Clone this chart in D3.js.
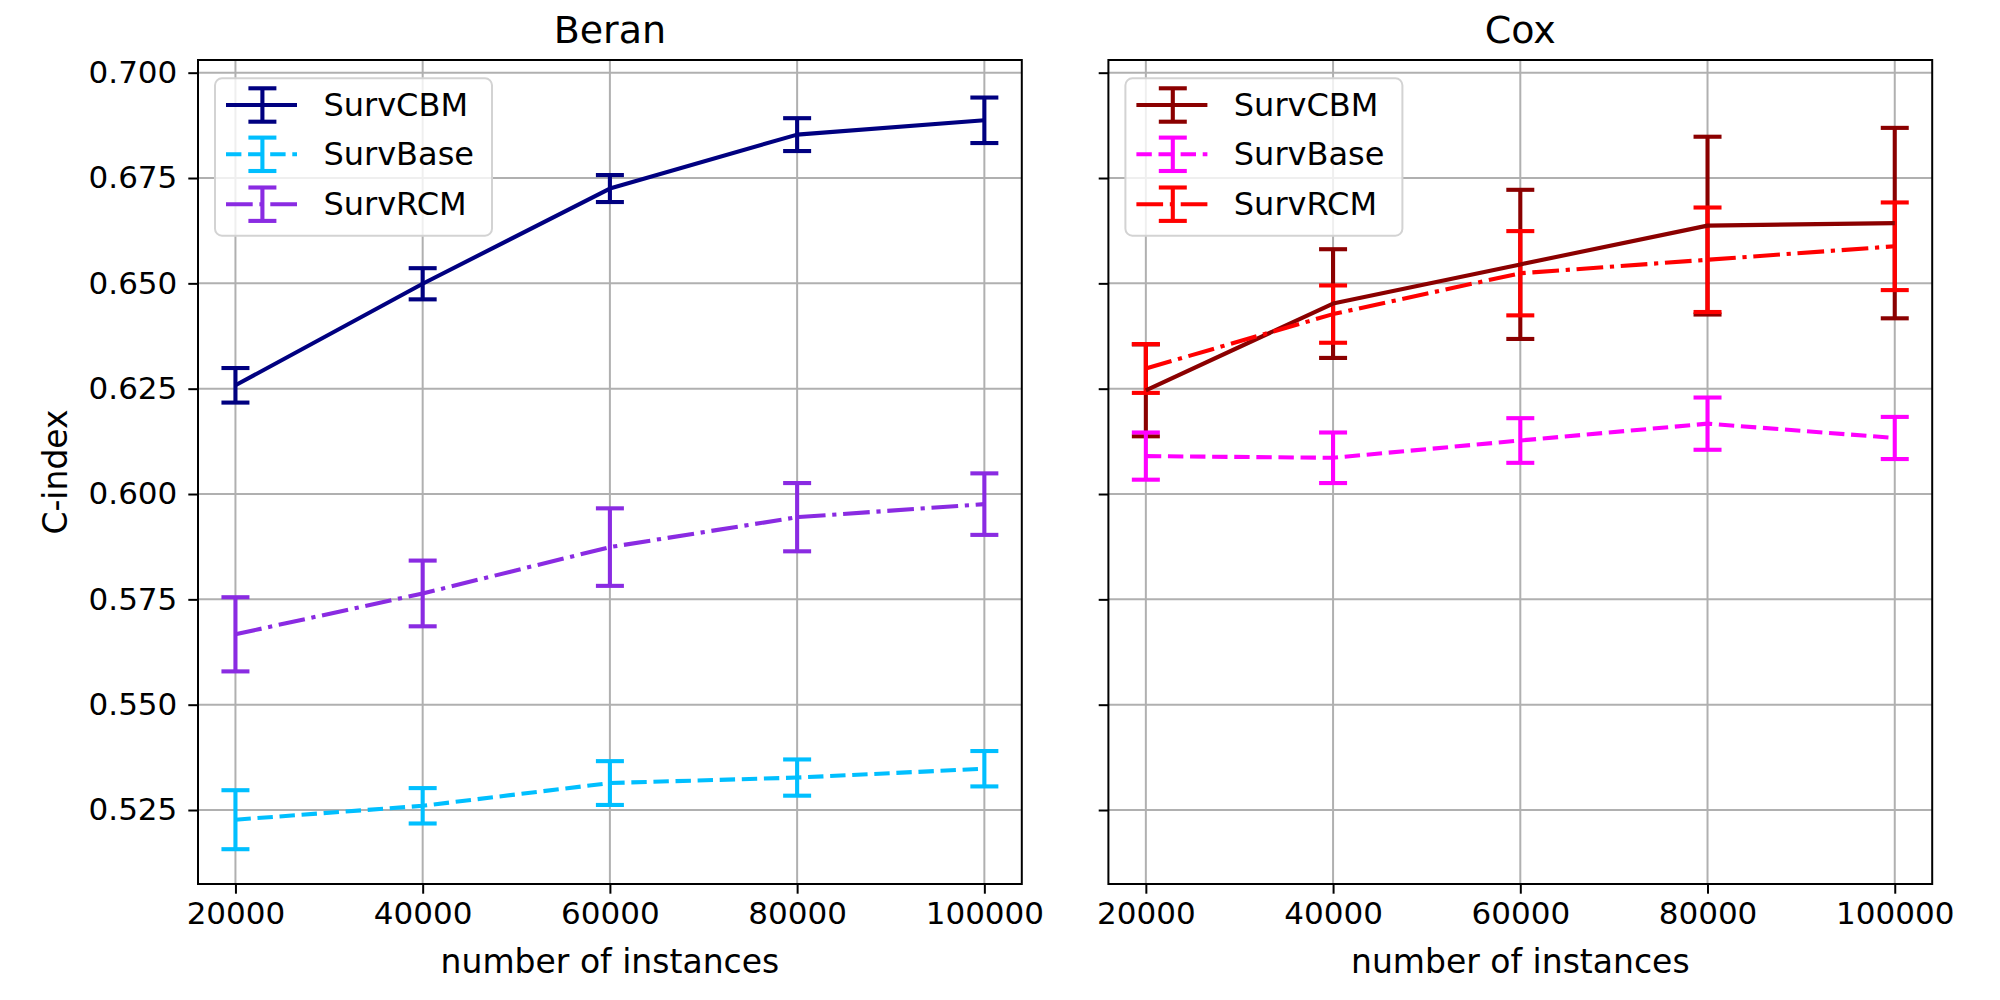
<!DOCTYPE html>
<html>
<head>
<meta charset="utf-8">
<script src="https://cdn.jsdelivr.net/npm/d3@7"></script>
<style>
  body { margin: 0; background: #fff; }
  svg { font-family: "DejaVu Sans", sans-serif; }
</style>
</head>
<body>
<svg id="chart" width="2000" height="1000"></svg>
<script>
// number of instances on x
const instances = [20000, 40000, 60000, 80000, 100000];
const yTicks = [0.525, 0.550, 0.575, 0.600, 0.625, 0.650, 0.675, 0.700];
const methods = ["SurvCBM", "SurvBase", "SurvRCM"];

// Beran panel, mean C-index and error
const beranCBM = [0.6258, 0.6499, 0.6725, 0.6853, 0.6887];
const beranCBMErr = [0.0041, 0.0037, 0.0032, 0.0039, 0.0054];
const beranBase = [0.5227, 0.5260, 0.5314, 0.5327, 0.5348];
const beranBaseErr = [0.0070, 0.0042, 0.0052, 0.0043, 0.0042];
const beranRCM = [0.5667, 0.5764, 0.5874, 0.5945, 0.5976];
const beranRCMErr = [0.0088, 0.0078, 0.0092, 0.0081, 0.0073];

// Cox panel
const coxCBM = [0.6246, 0.6452, 0.6545, 0.6637, 0.6643];
const coxCBMErr = [0.0109, 0.0129, 0.0177, 0.0211, 0.0226];
const coxBase = [0.6090, 0.6086, 0.6127, 0.6167, 0.6133];
const coxBaseErr = [0.0056, 0.0060, 0.0053, 0.0062, 0.0050];
const coxRCM = [0.6298, 0.6427, 0.6524, 0.6556, 0.6588];
const coxRCMErr = [0.0058, 0.0068, 0.0100, 0.0124, 0.0104];

const lw = 4.1;
const dashes = {
    solid: null,
    dashed: "15.4,6.7",
    dashdot: "26.7,6.7,4.2,6.7"
};

const panels = [
    {
        title: "Beran", left: 198,
        series: [
            { name: methods[0], mean: beranCBM, err: beranCBMErr, color: "#000080", style: "solid" },
            { name: methods[1], mean: beranBase, err: beranBaseErr, color: "#00bfff", style: "dashed" },
            { name: methods[2], mean: beranRCM, err: beranRCMErr, color: "#8a2be2", style: "dashdot" }
        ]
    },
    {
        title: "Cox", left: 1108.4,
        series: [
            { name: methods[0], mean: coxCBM, err: coxCBMErr, color: "#8b0000", style: "solid" },
            { name: methods[1], mean: coxBase, err: coxBaseErr, color: "#ff00ff", style: "dashed" },
            { name: methods[2], mean: coxRCM, err: coxRCMErr, color: "#ff0000", style: "dashdot" }
        ]
    }
];

const plotTop = 60, plotBottom = 884, plotW = 823.8;
const svg = d3.select("#chart");

const y = d3.scaleLinear().domain([0.50744, 0.70301]).range([plotBottom, plotTop]);
const capHalf = 14;

panels.forEach((p, pi) => {
    const x = d3.scaleLinear().domain([16000, 104000]).range([p.left, p.left + plotW]);
    const g = svg.append("g").attr("class", "panel");

    // grid
    g.append("g").selectAll("line.vgrid")
        .data(instances)
        .join("line")
            .attr("x1", d => x(d)).attr("x2", d => x(d))
            .attr("y1", plotTop).attr("y2", plotBottom)
            .attr("stroke", "#b0b0b0").attr("stroke-width", 2);
    g.append("g").selectAll("line.hgrid")
        .data(yTicks)
        .join("line")
            .attr("x1", p.left).attr("x2", p.left + plotW)
            .attr("y1", d => y(d)).attr("y2", d => y(d))
            .attr("stroke", "#b0b0b0").attr("stroke-width", 2);

    // error bars first (matplotlib draws them just below the lines)
    p.series.forEach(s => {
        const pts = instances.map((v, i) => ({ x: v, m: s.mean[i], e: s.err[i] }));
        const eg = g.append("g").attr("stroke", s.color).attr("stroke-width", lw);
        eg.selectAll("line.bar").data(pts).join("line")
            .attr("x1", d => x(d.x)).attr("x2", d => x(d.x))
            .attr("y1", d => y(d.m - d.e)).attr("y2", d => y(d.m + d.e));
        eg.selectAll("line.capTop").data(pts).join("line")
            .attr("x1", d => x(d.x) - capHalf).attr("x2", d => x(d.x) + capHalf)
            .attr("y1", d => y(d.m + d.e)).attr("y2", d => y(d.m + d.e));
        eg.selectAll("line.capBot").data(pts).join("line")
            .attr("x1", d => x(d.x) - capHalf).attr("x2", d => x(d.x) + capHalf)
            .attr("y1", d => y(d.m - d.e)).attr("y2", d => y(d.m - d.e));
    });

    const line = d3.line().x(d => x(d[0])).y(d => y(d[1]));
    p.series.forEach(s => {
        g.append("path")
            .datum(instances.map((v, i) => [v, s.mean[i]]))
            .attr("d", line)
            .attr("fill", "none")
            .attr("stroke", s.color)
            .attr("stroke-width", lw)
            .attr("stroke-linejoin", "round")
            .attr("stroke-dasharray", dashes[s.style]);
    });

    // frame
    g.append("rect")
        .attr("x", p.left).attr("y", plotTop)
        .attr("width", plotW).attr("height", plotBottom - plotTop)
        .attr("fill", "none").attr("stroke", "#000").attr("stroke-width", 2);

    // axes
    const xAxis = g.append("g")
        .attr("transform", `translate(0,${plotBottom})`)
        .call(d3.axisBottom(x).tickValues(instances).tickFormat(d3.format("d")).tickSize(9.7).tickPadding(8));
    const yAxis = g.append("g")
        .attr("transform", `translate(${p.left},0)`)
        .call(d3.axisLeft(y).tickValues(yTicks).tickFormat(pi === 0 ? d3.format(".3f") : () => "").tickSize(9.7).tickPadding(11));
    [xAxis, yAxis].forEach(a => {
        a.select(".domain").remove();
        a.selectAll(".tick line").attr("stroke", "#000").attr("stroke-width", 2);
        a.selectAll(".tick text").attr("fill", "#000")
            .style("font-family", "DejaVu Sans").style("font-size", "31px");
    });

    // titles
    g.append("text")
        .attr("x", p.left + plotW / 2).attr("y", 43)
        .attr("text-anchor", "middle")
        .style("font-size", "38px")
        .text(p.title);
    g.append("text")
        .attr("x", p.left + plotW / 2).attr("y", 973)
        .attr("text-anchor", "middle")
        .style("font-size", "33px")
        .text("number of instances");

    // legend
    const lx = p.left + 17, ly = 78.3;
    const lg = g.append("g").attr("transform", `translate(${lx},${ly})`);
    lg.append("rect")
        .attr("width", 277).attr("height", 157.4)
        .attr("rx", 7).attr("ry", 7)
        .attr("fill", "#fff").attr("fill-opacity", 0.8)
        .attr("stroke", "#d3d3d3").attr("stroke-width", 2);
    const rowY = [26.7, 76, 125.9];
    p.series.forEach((s, i) => {
        const r = lg.append("g").attr("transform", `translate(0,${rowY[i]})`);
        r.append("line")
            .attr("x1", 11).attr("x2", 82).attr("y1", 0).attr("y2", 0)
            .attr("stroke", s.color).attr("stroke-width", lw)
            .attr("stroke-dasharray", dashes[s.style]);
        r.append("line")
            .attr("x1", 47.4).attr("x2", 47.4).attr("y1", -16.7).attr("y2", 16.7)
            .attr("stroke", s.color).attr("stroke-width", lw);
        [-16.7, 16.7].forEach(cy => {
            r.append("line")
                .attr("x1", 47.4 - capHalf).attr("x2", 47.4 + capHalf)
                .attr("y1", cy).attr("y2", cy)
                .attr("stroke", s.color).attr("stroke-width", lw);
        });
        r.append("text")
            .attr("x", 108.4).attr("y", 10.5)
            .style("font-size", "32px")
            .text(s.name);
    });
});

svg.append("text")
    .attr("transform", `translate(67,${(plotTop + plotBottom) / 2}) rotate(-90)`)
    .attr("text-anchor", "middle")
    .style("font-size", "33px")
    .text("C-index");
</script>
</body>
</html>
